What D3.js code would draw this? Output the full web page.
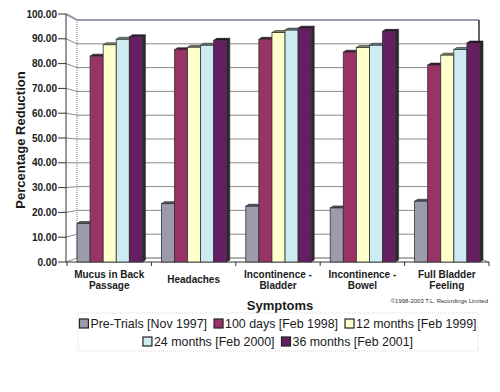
<!DOCTYPE html>
<html><head><meta charset="utf-8">
<script src="https://cdn.jsdelivr.net/npm/d3@7"></script>
<style>body{margin:0;background:#fff}svg{display:block;font-family:"Liberation Sans",Arial,sans-serif}</style>
</head><body><svg id="c" width="500" height="392"></svg>
<script>
const categories = [["Mucus in Back","Passage"],["Headaches"],["Incontinence -","Bladder"],["Incontinence -","Bowel"],["Full Bladder","Feeling"]];
const seriesNames = ["Pre-Trials [Nov 1997]","100 days [Feb 1998]","12 months [Feb 1999]","24 months [Feb 2000]","36 months [Feb 2001]"];
const preTrials = [15.5, 23.5, 22.5, 21.8, 24.5];
const days100   = [83.0, 85.6, 89.8, 84.6, 79.4];
const months12  = [87.6, 86.6, 92.5, 86.5, 83.4];
const months24  = [89.8, 87.4, 93.5, 87.4, 85.7];
const months36  = [90.8, 89.4, 94.3, 93.0, 88.3];
const yTicks = [0,10,20,30,40,50,60,70,80,90,100];
const colors = ["#9b9bab","#993366","#ffffcc","#cdecf1","#641e62"];
const sideColors = ["#55556a","#4a1530","#888866","#6a8a90","#2a0a2a"];
const series = [preTrials, days100, months12, months24, months36];

const svg = d3.select("#c");
const yF = d3.scaleLinear().domain([0,100]).range([262,14]);
const yB = d3.scaleLinear().domain([0,100]).range([258,20]);
const x = d3.scaleBand().domain(d3.range(categories.length)).range([67,489]);
const inner = d3.scaleBand().domain(d3.range(series.length)).range([10, x.bandwidth()-9]);
const backL = 77, backR = 479, frontL = 66;

// gridlines
const g = svg.append("g");
yTicks.forEach(v => {
  g.append("path").attr("d", `M${frontL},${yF(v)}L${backL},${yB(v)}L${backR},${yB(v)}`)
   .attr("fill","none").attr("stroke", v===100 ? "#9c9cb0" : "#8a8a8a").attr("stroke-width", v===100?2:1);
  g.append("line").attr("x1",58).attr("x2",frontL).attr("y1",yF(v)).attr("y2",yF(v)).attr("stroke","#333");
  g.append("text").attr("x",57).attr("y",yF(v)+3.5).attr("text-anchor","end")
   .attr("font-size",10).attr("font-weight","bold").attr("fill","#1a1a1a").text(v.toFixed(2));
});
// walls
g.append("line").attr("x1",backL).attr("x2",backL).attr("y1",yB(100)).attr("y2",yB(0)).attr("stroke","#777").attr("stroke-dasharray","1,1");
g.append("line").attr("x1",backR).attr("x2",backR).attr("y1",yB(100)).attr("y2",yB(0)).attr("stroke","#333").attr("stroke-width",1.5);
g.append("line").attr("x1",frontL).attr("x2",frontL).attr("y1",yF(100)).attr("y2",yF(0)).attr("stroke","#333");
g.append("path").attr("d",`M${backL},${yB(0)}L${backR},${yB(0)}L489,${yF(0)}`).attr("fill","none").attr("stroke","#999");
g.append("line").attr("x1",frontL).attr("x2",489).attr("y1",yF(0)).attr("y2",yF(0)).attr("stroke","#333");
d3.range(categories.length+1).forEach(i => {
  const xx = i<categories.length ? x(i) : x.range()[1];
  g.append("line").attr("x1",xx).attr("x2",xx).attr("y1",yF(0)).attr("y2",yF(0)+4).attr("stroke","#333");
});

// bars
const dx = 3, dy = -2;
const bars = svg.append("g");
categories.forEach((c, ci) => {
  series.forEach((s, si) => {
    const x0 = x(ci) + inner(si), w = inner.bandwidth(), yt = yF(s[ci]), yb = yF(0);
    bars.append("path").attr("d",`M${x0},${yt}L${x0+dx},${yt+dy}L${x0+w+dx},${yt+dy}L${x0+w},${yt}Z`)
      .attr("fill", sideColors[si]).attr("stroke","#222").attr("stroke-width",0.6);
    bars.append("path").attr("d",`M${x0+w},${yt}L${x0+w+dx},${yt+dy}L${x0+w+dx},${yb+dy}L${x0+w},${yb}Z`)
      .attr("fill", "#2b2b2b").attr("stroke","#222").attr("stroke-width",0.6);
    bars.append("rect").attr("x",x0).attr("y",yt).attr("width",w).attr("height",yb-yt)
      .attr("fill", colors[si]).attr("stroke","#333").attr("stroke-width",0.8);
  });
});

// x labels
categories.forEach((c, ci) => {
  const cx = x(ci) + x.bandwidth()/2;
  const t = svg.append("text").attr("text-anchor","middle").attr("font-size",10).attr("font-weight","bold").attr("fill","#1a1a1a");
  const base = c.length === 1 ? 283 : 278;
  c.forEach((line, li) => t.append("tspan").attr("x",cx).attr("y",base + li*11).text(line));
});

svg.append("text").attr("x",280).attr("y",310).attr("text-anchor","middle").attr("font-size",13).attr("font-weight","bold").attr("fill","#1a1a1a").text("Symptoms");
svg.append("text").attr("transform","translate(25,140) rotate(-90)").attr("text-anchor","middle").attr("font-size",13).attr("font-weight","bold").attr("fill","#1a1a1a").text("Percentage Reduction");
svg.append("text").attr("x",488).attr("y",303).attr("text-anchor","end").attr("font-size",6).attr("fill","#333").text("©1998-2003 T.L. Recordings Limited");

// legend
svg.append("rect").attr("x",78).attr("y",313).attr("width",400).attr("height",38).attr("fill","none").attr("stroke","#ddd").attr("stroke-dasharray","1,1");
const rows = [[0,1,2],[3,4]];
const rowY = [328, 346];
rows.forEach((r, ri) => {
  const lg = svg.append("g");
  let cur = 0;
  r.forEach(si => {
    const it = lg.append("g").attr("transform",`translate(${cur},0)`);
    it.append("rect").attr("x",0).attr("y",rowY[ri]-9).attr("width",9).attr("height",9).attr("fill",colors[si]).attr("stroke","#222").attr("stroke-width",1.2);
    const t = it.append("text").attr("x",11).attr("y",rowY[ri]).attr("font-size",12.4).attr("fill","#1a1a1a").text(seriesNames[si]);
    cur += 11 + t.node().getComputedTextLength() + 7;
  });
  cur -= 7;
  lg.attr("transform",`translate(${278 - cur/2},0)`);
});
</script></body></html>
